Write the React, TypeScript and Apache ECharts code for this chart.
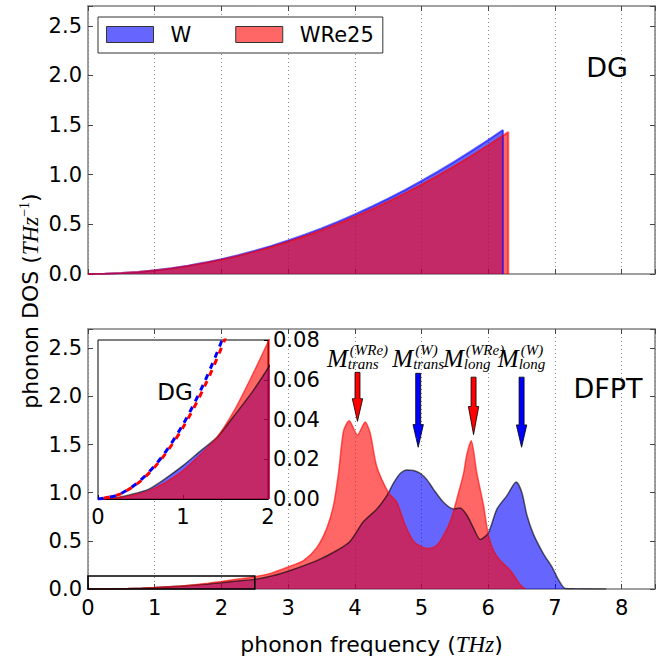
import React, { useEffect, useRef } from 'react';
import * as echarts from 'echarts';

// ---------- DATA ----------
// Debye-Grüneisen (DG) model DOS, top panel
const dgFreqW = [0, 0.25, 0.5, 0.75, 1, 1.25, 1.5, 1.75, 2, 2.25, 2.5, 2.75, 3, 3.25, 3.5, 3.75, 4, 4.25, 4.5, 4.75, 5, 5.25, 5.5, 5.75, 6, 6.22, 6.22];
const dgDosW = [0, 0.0023, 0.0094, 0.0211, 0.0375, 0.0586, 0.0844, 0.1148, 0.15, 0.1898, 0.2344, 0.2836, 0.3375, 0.3961, 0.4594, 0.5273, 0.6, 0.6773, 0.7594, 0.8461, 0.9375, 1.0336, 1.1344, 1.2398, 1.35, 1.451, 0];
const dgFreqWRe = [0, 0.25, 0.5, 0.75, 1, 1.25, 1.5, 1.75, 2, 2.25, 2.5, 2.75, 3, 3.25, 3.5, 3.75, 4, 4.25, 4.5, 4.75, 5, 5.25, 5.5, 5.75, 6, 6.3, 6.3];
const dgDosWRe = [0, 0.0023, 0.009, 0.0203, 0.036, 0.0563, 0.0811, 0.1103, 0.1441, 0.1824, 0.2252, 0.2725, 0.3243, 0.3806, 0.4414, 0.5067, 0.5765, 0.6508, 0.7296, 0.8129, 0.9008, 0.9931, 1.09, 1.1913, 1.2971, 1.43, 0];

// DFPT DOS, bottom panel
const wreDfptFreq = [0, 0.2, 0.4, 0.6, 0.8, 1.0, 1.2, 1.4, 1.6, 1.8, 2.0, 2.25, 2.5, 2.75, 3.0, 3.23, 3.43, 3.58, 3.68, 3.755, 3.83, 3.915, 4.04, 4.155, 4.23, 4.33, 4.505, 4.63, 4.755, 4.88, 5.0, 5.105, 5.2, 5.28, 5.43, 5.555, 5.63, 5.68, 5.745, 5.83, 5.93, 6.0, 6.08, 6.18, 6.33, 6.48, 6.555];
const wreDfptDos = [0, 0.0005, 0.0018, 0.0042, 0.0085, 0.0143, 0.0222, 0.031, 0.0443, 0.061, 0.079, 0.103, 0.128, 0.165, 0.229, 0.295, 0.43, 0.632, 0.867, 1.2, 1.64, 1.747, 1.6, 1.734, 1.62, 1.27, 1.0, 0.9, 0.665, 0.497, 0.44, 0.42, 0.44, 0.497, 0.7, 1.0, 1.2, 1.4, 1.54, 1.2, 0.867, 0.565, 0.4, 0.295, 0.195, 0.045, 0];
const wDfptFreq = [0, 0.2, 0.4, 0.6, 0.8, 1.0, 1.2, 1.4, 1.6, 1.8, 2.0, 2.25, 2.5, 2.75, 3.0, 3.43, 3.73, 3.93, 4.13, 4.33, 4.48, 4.58, 4.68, 4.78, 4.88, 4.98, 5.08, 5.18, 5.33, 5.48, 5.58, 5.68, 5.78, 5.88, 6.0, 6.13, 6.28, 6.42, 6.505, 6.58, 6.68, 6.83, 6.955, 7.055, 7.155, 7.3, 7.77];
const wDfptDos = [0, 0.0006, 0.0024, 0.005, 0.0105, 0.0168, 0.024, 0.031, 0.0418, 0.053, 0.0658, 0.083, 0.1, 0.135, 0.185, 0.295, 0.4, 0.497, 0.7, 0.83, 0.97, 1.1, 1.2, 1.237, 1.23, 1.2, 1.136, 1.035, 0.9, 0.83, 0.84, 0.766, 0.632, 0.514, 0.58, 0.83, 0.97, 1.11, 1.0, 0.766, 0.565, 0.363, 0.229, 0.094, 0.005, 0.002, 0];

// Arrows marking modes
const arrowFreq = [4.04, 4.95, 5.78, 6.5];
const arrowTop = [2.25, 2.24, 2.2, 2.2];
const arrowHeadStart = [1.976, 1.707, 1.895, 1.704];
const arrowTip = [1.741, 1.472, 1.603, 1.472];
const arrowColor = ['#ff0000', '#0000ff', '#ff0000', '#0000ff'];
const labelSup = ['(WRe)', '(W)', '(WRe)', '(W)'];
const labelSub = ['trans', 'trans', 'long', 'long'];
const labelLevel = 2.39;

// Zoom box
const zoomBox = [0, 0, 2.5, 0.135];

// Axis ranges
const mainXMax = 8.5;
const mainYMax = 2.7;
const insetXMax = 2;
const insetYMax = 0.08;

const SANS = 'DejaVu Sans';
const SERIF = 'Liberation Serif';

let measureCtx: CanvasRenderingContext2D | null = null;
function textWidth(t: string, font: string): number {
  if (!measureCtx) {
    const c = document.createElement('canvas');
    measureCtx = c.getContext('2d');
  }
  if (!measureCtx) return t.length * 8;
  measureCtx.font = font;
  return measureCtx.measureText(t).width;
}

const pairs = (xs: number[], ys: number[]) => xs.map((x, i) => [x, ys[i]]);

export default function App() {
  const ref = useRef<HTMLDivElement>(null);
  useEffect(() => {
    if (!ref.current) return;
    const chart = echarts.init(ref.current, undefined, { renderer: 'svg' });

    const AX = '#808080';
    const tick = { show: true, inside: true, length: 5, lineStyle: { color: '#444', width: 1 } };
    const grid = { show: true, lineStyle: { color: '#888', type: [1, 3], width: 1 } };
    const font = { fontFamily: SANS, fontSize: 21, color: '#000' };
    const axLine = { show: true, onZero: false, lineStyle: { color: AX, width: 1.5 } };
    const xFmt = (v: number) => (Math.abs(v - Math.round(v)) < 1e-9 ? String(Math.round(v)) : '');
    const yFmt = (v: number) => (Math.abs(v * 2 - Math.round(v * 2)) < 1e-9 ? v.toFixed(1) : '');

    const mainX = (gi: number, pos: string, labels: boolean, split: boolean, extra: any = {}) => ({
      type: 'value', gridIndex: gi, min: 0, max: mainXMax, interval: 1, position: pos,
      axisLine: axLine, axisTick: tick,
      axisLabel: labels ? { show: true, margin: 8, formatter: xFmt, ...font } : { show: false },
      splitLine: split ? grid : { show: false },
      ...extra,
    });
    const mainY = (gi: number, pos: string, labels: boolean) => ({
      type: 'value', gridIndex: gi, min: 0, max: mainYMax, interval: 0.5, position: pos,
      axisLine: axLine, axisTick: tick,
      axisLabel: labels ? { show: true, margin: 6, formatter: yFmt, ...font } : { show: false },
      splitLine: { show: false },
    });

    const areaSeries = (name: string, xi: number, data: number[][], line: string, fill: string, lw: number, z: number, smooth: any) => ({
      type: 'line', name, xAxisIndex: xi, yAxisIndex: xi, data,
      symbol: 'none', showSymbol: false, smooth,
      lineStyle: { color: line, width: lw },
      areaStyle: { color: fill, opacity: 0.6 },
      z, silent: true, clip: true,
    });

    const mFont = `italic 25px "${SERIF}"`;
    const sFont = `italic 15px "${SERIF}"`;

    const option: any = {
      animation: false,
      backgroundColor: '#fff',
      grid: [
        { left: 88, top: 6, width: 567, height: 268 },
        { left: 88, top: 329, width: 567, height: 267 },
        { left: 98, top: 340, width: 170, height: 159, show: true, backgroundColor: '#fff', borderColor: '#000', borderWidth: 1, z: 5 },
      ],
      xAxis: [
        mainX(0, 'bottom', false, true),
        mainX(0, 'top', false, false),
        mainX(1, 'bottom', true, true, {
          name: 'phonon frequency ({i|THz})', nameLocation: 'middle', nameGap: 44,
          nameTextStyle: {
            fontFamily: SANS, fontSize: 22, color: '#000',
            rich: { i: { fontFamily: SERIF, fontStyle: 'italic', fontSize: 23, color: '#000' } },
          },
        }),
        mainX(1, 'top', false, false),
        {
          type: 'value', gridIndex: 2, min: 0, max: insetXMax, interval: 1, position: 'bottom', z: 6,
          axisLine: { show: true, onZero: false, lineStyle: { color: '#000', width: 1 } },
          axisTick: { show: true, inside: true, length: 4, lineStyle: { color: '#000' } },
          axisLabel: { show: true, margin: 7, ...font },
          splitLine: { show: false },
        },
      ],
      yAxis: [
        mainY(0, 'left', true),
        mainY(0, 'right', false),
        mainY(1, 'left', true),
        mainY(1, 'right', false),
        {
          type: 'value', gridIndex: 2, min: 0, max: insetYMax, interval: 0.02, position: 'right', z: 6,
          axisLine: { show: true, onZero: false, lineStyle: { color: '#000', width: 1 } },
          axisTick: { show: true, inside: true, length: 4, lineStyle: { color: '#000' } },
          axisLabel: { show: true, margin: 5, formatter: (v: number) => v.toFixed(2), ...font },
          splitLine: { show: false },
        },
      ],
      legend: {
        left: 98, top: 17, orient: 'horizontal', selectedMode: false,
        padding: [7, 9, 8, 8], itemWidth: 47, itemHeight: 16, itemGap: 44,
        backgroundColor: '#fff', borderColor: '#333', borderWidth: 1, borderRadius: 0,
        textStyle: { fontFamily: SANS, fontSize: 21, color: '#000', padding: [0, 0, 0, 12] },
        data: [
          { name: 'W', icon: 'rect', itemStyle: { color: 'rgba(0,0,255,0.6)', borderColor: '#333', borderWidth: 1, opacity: 1 } },
          { name: 'WRe25', icon: 'rect', itemStyle: { color: 'rgba(255,0,0,0.6)', borderColor: '#333', borderWidth: 1, opacity: 1 } },
        ],
      },
      graphic: [
        { type: 'text', x: 607, y: 67, z: 20, style: { text: 'DG', fontFamily: SANS, fontSize: 27, fill: '#000', align: 'center', verticalAlign: 'middle' } },
        { type: 'text', x: 608, y: 388, z: 20, style: { text: 'DFPT', fontFamily: SANS, fontSize: 27, fill: '#000', align: 'center', verticalAlign: 'middle' } },
        { type: 'text', x: 175, y: 392, z: 20, style: { text: 'DG', fontFamily: SANS, fontSize: 23, fill: '#000', align: 'center', verticalAlign: 'middle' } },
        {
          type: 'text', x: 30, y: 301, rotation: Math.PI / 2, z: 20,
          style: {
            text: 'phonon DOS ({i|THz}{s|−1})', fontFamily: SANS, fontSize: 22, fill: '#000', align: 'center', verticalAlign: 'middle',
            rich: {
              i: { fontFamily: SERIF, fontStyle: 'italic', fontSize: 23, fill: '#000' },
              s: { fontFamily: SERIF, fontSize: 14, fill: '#000', padding: [0, 0, 12, 0] },
            },
          },
        },
      ],
      series: [
        areaSeries('W', 0, pairs(dgFreqW, dgDosW), 'rgba(0,0,255,0.6)', '#0000ff', 2, 2, false),
        areaSeries('WRe25', 0, pairs(dgFreqWRe, dgDosWRe), 'rgba(255,0,0,0.6)', '#ff0000', 2, 2, false),
        areaSeries('W', 2, pairs(wDfptFreq, wDfptDos), 'rgba(0,0,0,0.6)', '#0000ff', 1.5, 2, 0.25),
        areaSeries('WRe25', 2, pairs(wreDfptFreq, wreDfptDos), 'rgba(255,0,0,0.6)', '#ff0000', 1.5, 2, 0.25),
        {
          type: 'custom', name: 'box', xAxisIndex: 2, yAxisIndex: 2, z: 3, silent: true,
          data: [zoomBox],
          renderItem: (params: any, api: any) => {
            const p0 = api.coord([api.value(0), api.value(3)]);
            const p1 = api.coord([api.value(2), api.value(1)]);
            return {
              type: 'rect',
              shape: { x: p0[0], y: p0[1], width: p1[0] - p0[0], height: p1[1] - p0[1] },
              style: { fill: 'none', stroke: '#000', lineWidth: 1.6 },
            };
          },
        },
        {
          type: 'custom', name: 'arrows', xAxisIndex: 2, yAxisIndex: 2, z: 4, silent: true,
          data: arrowFreq.map((f, i) => [f, arrowTop[i], arrowHeadStart[i], arrowTip[i], i]),
          renderItem: (params: any, api: any) => {
            const x = api.value(0);
            const i = api.value(4);
            const pTop = api.coord([x, api.value(1)]);
            const pHs = api.coord([x, api.value(2)]);
            const pTip = api.coord([x, api.value(3)]);
            const cx = pTop[0];
            const sw = 2.5, hw = 5.2;
            const pl = api.coord([x, labelLevel]);
            const sup = labelSup[i], sub = labelSub[i];
            const wM = textWidth('M', mFont);
            const wS = Math.max(textWidth(sup, sFont) + 2, textWidth(sub, sFont));
            const jx = cx - (wM + wS) / 2 + wM;
            return {
              type: 'group',
              children: [
                {
                  type: 'polygon',
                  shape: { points: [[cx - sw, pTop[1]], [cx + sw, pTop[1]], [cx + sw, pHs[1]], [cx + hw, pHs[1]], [cx, pTip[1]], [cx - hw, pHs[1]], [cx - sw, pHs[1]]] },
                  style: { fill: arrowColor[i], stroke: '#000', lineWidth: 0.8 },
                },
                { type: 'text', x: jx, y: pl[1], style: { text: 'M', fontFamily: SERIF, fontStyle: 'italic', fontSize: 25, fill: '#000', align: 'right', verticalAlign: 'middle' } },
                { type: 'text', x: jx + 2, y: pl[1] - 9, style: { text: sup, fontFamily: SERIF, fontStyle: 'italic', fontSize: 15, fill: '#000', align: 'left', verticalAlign: 'middle' } },
                { type: 'text', x: jx, y: pl[1] + 5, style: { text: sub, fontFamily: SERIF, fontStyle: 'italic', fontSize: 15, fill: '#000', align: 'left', verticalAlign: 'middle' } },
              ],
            };
          },
        },
        areaSeries('W', 4, pairs(wDfptFreq, wDfptDos), 'rgba(0,0,0,0.6)', '#0000ff', 1.5, 7, 0.25),
        areaSeries('WRe25', 4, pairs(wreDfptFreq, wreDfptDos), 'rgba(255,0,0,0.6)', '#ff0000', 1.5, 7, 0.25),
        {
          type: 'line', name: 'W', xAxisIndex: 4, yAxisIndex: 4, data: pairs(dgFreqW, dgDosW),
          symbol: 'none', smooth: 0.3, clip: true, z: 8, silent: true,
          lineStyle: { color: '#0000ff', width: 3, type: [6, 6], dashOffset: 0 },
        },
        {
          type: 'line', name: 'WRe25', xAxisIndex: 4, yAxisIndex: 4, data: pairs(dgFreqWRe, dgDosWRe),
          symbol: 'none', smooth: 0.3, clip: true, z: 8, silent: true,
          lineStyle: { color: '#ff0000', width: 3, type: [6, 6], dashOffset: 6 },
        },
      ],
    };
    chart.setOption(option);
    return () => chart.dispose();
  }, []);
  return <div ref={ref} style={{ position: 'fixed', left: 0, top: 0, width: 663, height: 657, background: '#fff' }} />;
}
